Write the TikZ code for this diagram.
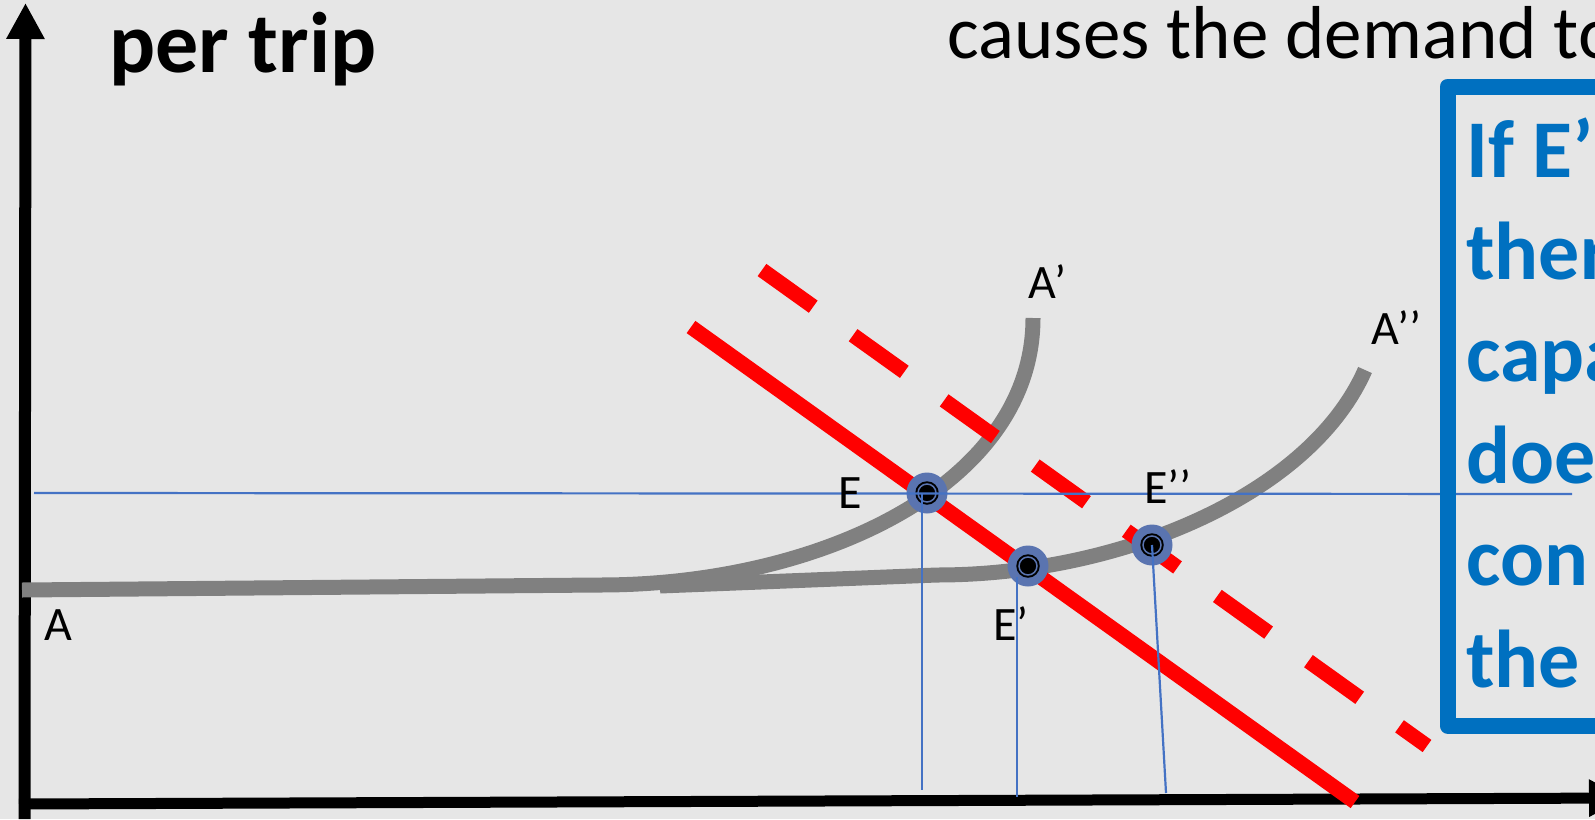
\documentclass[tikz,border=0pt]{standalone}
\usepackage{fontspec}
\setmainfont{Carlito}
\usepackage{tikz}
\usetikzlibrary{arrows.meta}
\definecolor{slidebg}{HTML}{E6E6E6}
\definecolor{curvegray}{HTML}{808080}
\definecolor{demandred}{HTML}{FF0000}
\definecolor{guideblue}{HTML}{4472C4}
\definecolor{eqfill}{HTML}{5A74B0}
\definecolor{boxblue}{HTML}{0070C0}
\tikzset{
    axisline/.style={draw=black,line width=6pt},
    costcurve/.style={draw=curvegray,line width=7.5pt},
    demandline/.style={draw=demandred,line width=7.5pt},
    shifted/.style={dash pattern=on 31.5pt off 24.5pt},
    guideline/.style={draw=guideblue,line width=1.1pt},
    eqpoint/.style={circle,fill=eqfill,minimum size=20.5pt,inner sep=0pt,
      path picture={
        \fill[black] (path picture bounding box.center) circle (11.75);
        \draw[eqfill,line width=0.75pt] (path picture bounding box.center) circle (9);
      }},
    curvelabel/.style={anchor=base west,inner sep=0pt,
      font=\fontsize{24}{29}\selectfont},
    boxtext/.style={anchor=base west,inner sep=0pt,text=boxblue,
      font=\bfseries\fontsize{41}{51}\selectfont}
}
\begin{document}
\begin{tikzpicture}[x=0.5pt,y=-0.5pt]
  \useasboundingbox (0,0) rectangle (1595,819);
  \fill[slidebg] (0,0) rectangle (1595,819);
  \clip (0,0) rectangle (1595,819);
  % axes
  \draw[axisline,-{Triangle[length=18pt,width=18pt]}] (24.5,819) -- (25.5,3);
  \draw[axisline,line width=5.5pt,-{Triangle[length=18pt,width=17.5pt]}] (19,804) -- (1625,798);
  % average cost curves
  \draw[costcurve] (22,590) -- (600,585) .. controls (820,585) and (1033,485) .. (1033,318);
  \draw[costcurve] (660,586) -- (937,575) .. controls (1120,575) and (1310,495) .. (1365,370);
  % demand, before and after
  \draw[demandline] (691,327) -- (1355,802);
  \draw[demandline,shifted] (762,270) -- (1427,746);
  % equilibria
  \node[eqpoint] (E) at (927,493) {};
  \node[eqpoint] (Ep) at (1028,566) {};
  \node[eqpoint] (Epp) at (1152,545) {};
  \coordinate (hstart) at (34,493);
  \coordinate (hend) at (1572,494);
  \coordinate (topE) at (922,493);
  \coordinate (footE) at (922,790);
  \coordinate (topEp) at (1017,577);
  \coordinate (footEp) at (1017,797);
  \coordinate (footEpp) at (1166,793);
  \draw[guideline] (hstart) -- (hend);
  \draw[guideline] (topE) -- (footE);
  \draw[guideline] (topEp) -- (footEp);
  \draw[guideline] (Epp.center) -- (footEpp);
  % labels
  \node[curvelabel] (labA) at (44,640) {A};
  \node[curvelabel] (labAp) at (1028,298) {A’};
  \node[curvelabel] (labApp) at (1371,344) {A’’};
  \node[curvelabel] (labE) at (838,508) {E};
  \node[curvelabel] (labEp) at (993,640) {E’};
  \node[curvelabel] (labEpp) at (1144,503) {E’’};
  \node[anchor=base west,inner sep=0pt,font=\bfseries\fontsize{43}{50}\selectfont] (ytitle) at (109,72) {per trip};
  \node[anchor=base west,inner sep=0pt,font=\fontsize{37.5}{44}\selectfont] (caption) at (947,58) {causes the demand to};
  % note box
  \draw[draw=boxblue,line width=8pt,line join=round] (1447.5,86.5) rectangle (1700,725.5);
  \foreach \word [count=\row] in {If E’,ther,capa,doe,con,the}
    \node[boxtext] (boxline\row) at (1466,{177+102*(\row-1)}) {\word};
\end{tikzpicture}
\end{document}
